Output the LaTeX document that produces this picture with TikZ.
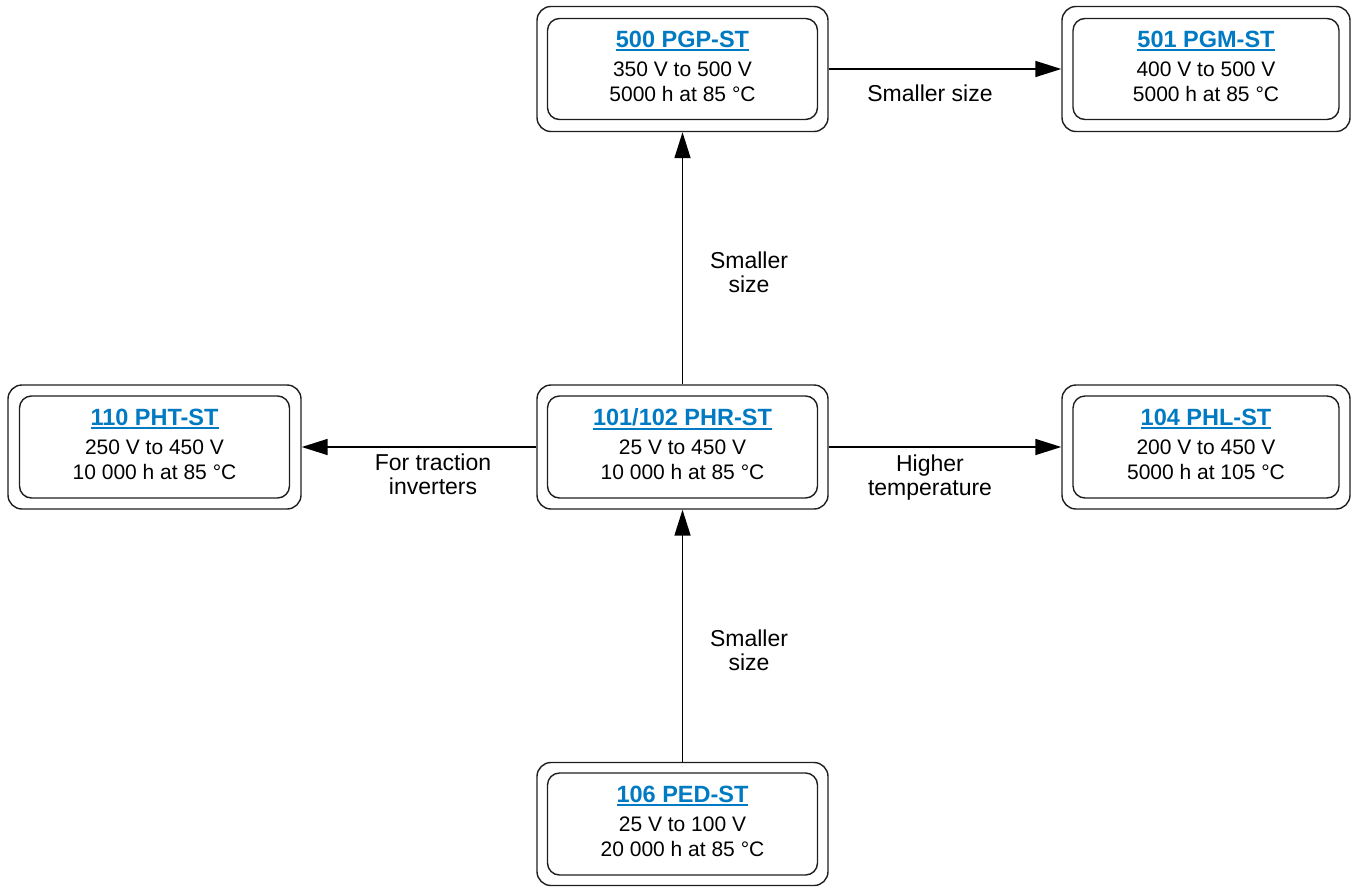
\documentclass[tikz,border=0pt]{standalone}
\usepackage{fontspec}
\setmainfont{Liberation Sans}
\usetikzlibrary{arrows.meta}
\definecolor{linkblue}{RGB}{0,122,194}
\definecolor{boxline}{RGB}{30,30,30}
\newcommand\ulbox[1]{\setbox0\hbox{#1}\rlap{\copy0}\rule[-4.2pt]{\wd0}{2pt}}
\newcommand\ttl[1]{{\fontsize{23.5}{25}\selectfont\bfseries\color{linkblue}\ulbox{#1}}}
\newcommand\lastl{\rule[-6.4pt]{0pt}{6.4pt}}
\begin{document}
\begin{tikzpicture}[x=1pt,y=-1pt,
  outerbox/.style={draw=boxline, line width=1.4pt, rounded corners=14pt, inner sep=0pt, minimum height=125pt},
  innerbox/.style={draw=boxline, line width=1.4pt, rounded corners=12pt, inner sep=0pt, minimum height=101pt, align=center, font=\fontsize{21}{25}\selectfont},
  arr/.style={line width=1.6pt, -{Triangle[length=26pt,width=16pt]}},
  lbl/.style={align=center, font=\fontsize{23}{24}\selectfont, inner sep=0pt}]
\useasboundingbox (0,0) rectangle (1356,886);

\node[outerbox, minimum width=291pt] (pgp) at (682.5,69) {};
\node[innerbox, minimum width=270pt] (pgpi) at (pgp) {\ttl{500 PGP-ST}\\[4pt]350 V to 500 V\\5000 h at 85 °C\lastl};

\node[outerbox, minimum width=288pt] (pgm) at (1206,69) {};
\node[innerbox, minimum width=266pt] (pgmi) at (pgm) {\ttl{501 PGM-ST}\\[4pt]400 V to 500 V\\5000 h at 85 °C\lastl};

\node[outerbox, minimum width=291pt, minimum height=124pt] (phr) at (682.5,447) {};
\node[innerbox, minimum width=270pt, minimum height=102pt] (phri) at (phr) {\ttl{101/102 PHR-ST}\\[4pt]25 V to 450 V\\10 000 h at 85 °C\lastl};

\node[outerbox, minimum width=293pt, minimum height=124pt] (pht) at (154.5,447) {};
\node[innerbox, minimum width=270pt, minimum height=102pt] (phti) at (pht) {\ttl{110 PHT-ST}\\[4pt]250 V to 450 V\\10 000 h at 85 °C\lastl};

\node[outerbox, minimum width=288pt, minimum height=124pt] (phl) at (1206,447) {};
\node[innerbox, minimum width=266pt, minimum height=102pt] (phli) at (phl) {\ttl{104 PHL-ST}\\[4pt]200 V to 450 V\\5000 h at 105 °C\lastl};

\node[outerbox, minimum width=291pt, minimum height=123pt] (ped) at (682.5,824) {};
\node[innerbox, minimum width=270pt, minimum height=102pt] (pedi) at (ped) {\ttl{106 PED-ST}\\[4pt]25 V to 100 V\\20 000 h at 85 °C\lastl};

\draw[arr] (phr.north) -- (pgp.south);
\draw[arr] (ped.north) -- (phr.south);
\draw[arr] (phr.west) -- (pht.east);
\draw[arr] (phr.east) -- (phl.west);
\draw[arr] (pgp.east) -- (pgm.west);

\node[lbl] (l1) at (930,93) {Smaller size};
\node[lbl] (l2) at (749,272.5) {Smaller\\size};
\node[lbl] (l3) at (433,474) {For traction\\inverters};
\node[lbl] (l4) at (930,477.5) {Higher\\temperature};
\node[lbl] (l5) at (749,650) {Smaller\\size};
\end{tikzpicture}
\end{document}
